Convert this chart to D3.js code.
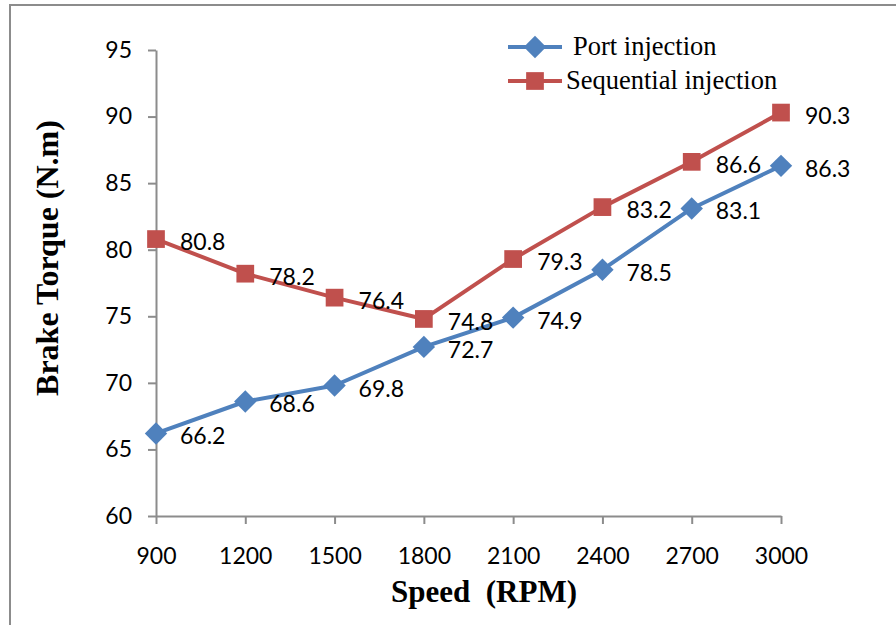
<!DOCTYPE html>
<html>
<head>
<meta charset="utf-8">
<script src="https://cdn.jsdelivr.net/npm/d3@7"></script>
<style>
  body { margin: 0; background: #fff; }
  svg { display: block; }
</style>
</head>
<body>
<svg id="chart" width="896" height="625"></svg>
<script>
// data
const speeds = ["900", "1200", "1500", "1800", "2100", "2400", "2700", "3000"];
const portInjection = [66.2, 68.6, 69.8, 72.7, 74.9, 78.5, 83.1, 86.3];
const seqInjection = [80.8, 78.2, 76.4, 74.8, 79.3, 83.2, 86.6, 90.3];
const yTicks = [60, 65, 70, 75, 80, 85, 90, 95];

const svg = d3.select("#chart");
const numFont = "Lato, 'Open Sans', sans-serif";
const serif = "'Liberation Serif', 'Times New Roman', serif";

// outer frame (only top and left edges are visible)
svg.append("path")
   .attr("d", "M10,625V5H896")
   .attr("fill", "none")
   .attr("stroke", "#8c8c8c")
   .attr("stroke-width", 2);

const margin = {left: 156, right: 781, top: 50, bottom: 516};

const x = d3.scalePoint()
   .domain(speeds)
   .range([margin.left, margin.right]);

const y = d3.scaleLinear()
   .domain([60, 95])
   .range([margin.bottom, margin.top]);

// y axis
const gy = svg.append("g")
   .attr("transform", `translate(${margin.left},0)`)
   .call(d3.axisLeft(y).tickValues(yTicks).tickSize(8).tickSizeOuter(0).tickPadding(16));
gy.select(".domain").attr("stroke", "#8c8c8c").attr("stroke-width", 2);
gy.selectAll(".tick line").attr("stroke", "#8c8c8c").attr("stroke-width", 2);
gy.selectAll(".tick text")
   .attr("font-family", numFont)
   .attr("font-size", "23px")
   .attr("fill", "#000");

// x axis
const gx = svg.append("g")
   .attr("transform", `translate(0,${margin.bottom})`)
   .call(d3.axisBottom(x).tickSize(8).tickSizeOuter(0).tickPadding(24));
gx.select(".domain").attr("stroke", "#8c8c8c").attr("stroke-width", 2);
gx.selectAll(".tick line").attr("stroke", "#8c8c8c").attr("stroke-width", 2);
gx.selectAll(".tick text")
   .attr("font-family", numFont)
   .attr("font-size", "23px")
   .attr("fill", "#000");

// axis titles
svg.append("text")
   .attr("transform", "translate(58,258) rotate(-90)")
   .attr("text-anchor", "middle")
   .attr("font-family", serif)
   .attr("font-weight", "bold")
   .attr("font-size", "32px")
   .text("Brake Torque (N.m)");

svg.append("text")
   .attr("x", 484)
   .attr("y", 602)
   .attr("text-anchor", "middle")
   .attr("font-family", serif)
   .attr("font-weight", "bold")
   .attr("font-size", "31px")
   .style("white-space", "pre")
   .text("Speed  (RPM)");

const series = [
   {name: "Port injection", values: portInjection, color: "#4f81bd", marker: d3.symbolDiamond2, size: 320},
   {name: "Sequential injection", values: seqInjection, color: "#c0504d", marker: d3.symbolSquare2, size: 400}
];

const line = d3.line()
   .x((d, i) => x(speeds[i]))
   .y(d => y(d));

series.forEach(s => {
   svg.append("path")
      .datum(s.values)
      .attr("fill", "none")
      .attr("stroke", s.color)
      .attr("stroke-width", 4)
      .attr("stroke-linejoin", "round")
      .attr("d", line);

   svg.append("g")
      .selectAll("path")
      .data(s.values)
      .join("path")
      .attr("transform", (d, i) => `translate(${x(speeds[i])},${y(d)})`)
      .attr("d", d3.symbol(s.marker, s.size))
      .attr("fill", s.color);

   svg.append("g")
      .selectAll("text")
      .data(s.values)
      .join("text")
      .attr("x", (d, i) => x(speeds[i]) + 24)
      .attr("y", d => y(d) + 11)
      .attr("font-family", numFont)
      .attr("font-size", "23px")
      .attr("fill", "#000")
      .text(d => d.toFixed(1));
});

// legend
const legend = svg.append("g");
series.forEach((s, i) => {
   const ly = 47 + i * 34;
   legend.append("line")
      .attr("x1", 508).attr("x2", 562)
      .attr("y1", ly).attr("y2", ly)
      .attr("stroke", s.color)
      .attr("stroke-width", 4);
   legend.append("path")
      .attr("transform", `translate(535,${ly})`)
      .attr("d", d3.symbol(s.marker, s.size))
      .attr("fill", s.color);
   legend.append("text")
      .attr("x", i === 0 ? 573 : 566)
      .attr("y", ly + 8)
      .attr("font-family", serif)
      .attr("font-size", "26.5px")
      .attr("fill", "#000")
      .text(s.name);
});
</script>
</body>
</html>
